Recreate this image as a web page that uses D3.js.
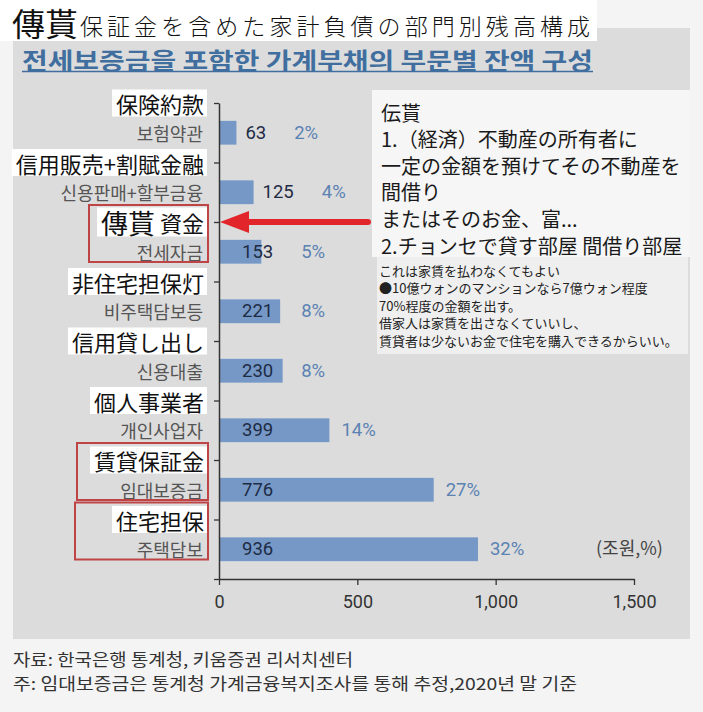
<!DOCTYPE html>
<html>
<head>
<meta charset="utf-8">
<script src="https://cdn.jsdelivr.net/npm/d3@7/dist/d3.min.js"></script>
<style>
  html, body { margin: 0; padding: 0; background: #f4f4f4; }
  svg { display: block; }
</style>
</head>
<body>
<svg id="chart" width="703" height="712"></svg>
<script>
// ---------------- data ----------------
const categories = ['보험약관', '신용판매+할부금융', '전세자금', '비주택담보등', '신용대출', '개인사업자', '임대보증금', '주택담보'];
const jpLabels = ['保険約款', '信用販売+割賦金融', '傳貰 資金', '非住宅担保灯', '信用貸し出し', '個人事業者', '賃貸保証金', '住宅担保'];
const values = [63, 125, 153, 221, 230, 399, 776, 936];
const shares = [2, 4, 5, 8, 8, 14, 27, 32];
const xTicks = [0, 500, 1000, 1500];
const highlighted = ['전세자금', '임대보증금', '주택담보'];
const arrowTarget = '전세자금';

const titleBig = '傳貰';
const titleRest = '保証金を含めた家計負債の部門別残高構成';
const subtitle = '전세보증금을 포함한 가계부채의  부문별 잔액 구성';
const unitLabel = '(조원,%)';
const noteLines = ['伝貰', '1.（経済）不動産の所有者に', '一定の金額を預けてその不動産を', '間借り', 'またはそのお金、富...', '2.チョンセで貸す部屋 間借り部屋'];
const noteSmall = ['これは家賃を払わなくてもよい', '●10億ウォンのマンションなら7億ウォン程度', '70%程度の金額を出す。', '借家人は家賃を出さなくていいし、', '賃貸者は少ないお金で住宅を購入できるからいい。'];
const footer = ['자료: 한국은행 통계청, 키움증권 리서치센터', '주: 임대보증금은 통계청 가계금융복지조사를 통해 추정,2020년 말 기준'];

// ---------------- layout ----------------
const KR = '"Noto Sans CJK KR", "Noto Sans", sans-serif';
const JP = '"Noto Sans CJK JP", "Noto Sans", sans-serif';
const NUM = 'Roboto, "Noto Sans", sans-serif';

const svg = d3.select('#chart');

// background panels
svg.append('rect').attr('x', 0).attr('y', 0).attr('width', 703).attr('height', 712).attr('fill', '#f4f4f4');
svg.append('rect').attr('x', 13).attr('y', 28).attr('width', 677).attr('height', 611).attr('fill', '#dcdcdc');
svg.append('rect').attr('x', 0).attr('y', 0).attr('width', 597).attr('height', 41).attr('fill', '#ffffff');

// title
svg.append('text').attr('x', 12).attr('y', 22).attr('dominant-baseline', 'central')
  .attr('font-family', JP).attr('font-size', 32).attr('fill', '#111')
  .attr('textLength', 66).attr('lengthAdjust', 'spacingAndGlyphs').text(titleBig);
svg.append('text').attr('x', 80).attr('y', 25).attr('dominant-baseline', 'central')
  .attr('font-family', JP).attr('font-size', 23).attr('font-weight', 300).attr('fill', '#111')
  .attr('textLength', 510).attr('lengthAdjust', 'spacing').text(titleRest);

// subtitle
svg.append('text').attr('x', 22).attr('y', 59).attr('dominant-baseline', 'central')
  .attr('font-family', KR).attr('font-size', 22.5).attr('font-weight', 'bold').attr('fill', '#3f6e9f')
  .attr('textLength', 571).attr('lengthAdjust', 'spacingAndGlyphs').text(subtitle);
svg.append('line').attr('x1', 22).attr('x2', 593).attr('y1', 71.5).attr('y2', 71.5)
  .attr('stroke', '#3f6e9f').attr('stroke-width', 1.5);

// scales
const x = d3.scaleLinear().domain([0, 1500]).range([219, 634]);
const y = d3.scaleBand().domain(categories).range([103, 579]).paddingInner(0.6).paddingOuter(0.3);
const yEdge = d3.scaleLinear().domain([0, categories.length]).range([103, 579]);

// bars
const data = categories.map((c, i) => ({ cat: c, jp: jpLabels[i], v: values[i], s: shares[i] }));
svg.append('g').selectAll('rect').data(data).join('rect')
  .attr('x', x(0)).attr('y', d => y(d.cat)).attr('height', y.bandwidth())
  .attr('width', d => x(d.v) - x(0)).attr('fill', '#7598c6');

// y axis (ticks at band edges)
const yAxis = svg.append('g').attr('transform', `translate(${x(0)},0)`)
  .call(d3.axisLeft(yEdge).tickValues(d3.range(categories.length + 1)).tickFormat('').tickSize(5).tickSizeOuter(0));
yAxis.select('.domain').attr('stroke', '#333').attr('stroke-width', 1.5);
yAxis.selectAll('.tick line').attr('stroke', '#333').attr('stroke-width', 1.3);

// x axis
const xAxis = svg.append('g').attr('transform', `translate(0,${yEdge(categories.length)})`)
  .call(d3.axisBottom(x).tickValues(xTicks).tickFormat(d3.format(',')).tickSize(6).tickSizeOuter(0).tickPadding(10));
xAxis.select('.domain').attr('stroke', '#333').attr('stroke-width', 1.5);
xAxis.selectAll('.tick line').attr('stroke', '#333').attr('stroke-width', 1.3);
xAxis.selectAll('.tick text').attr('font-family', NUM).attr('font-size', 18).attr('fill', '#333');

// value + share labels
const labels = svg.append('g');
data.forEach(d => {
  const w = x(d.v) - x(0);
  const cy = y(d.cat) + y.bandwidth() / 2;
  const vx = w > 40 ? x(0) + 23 : x(d.v) + 9;
  const vt = labels.append('text').attr('x', vx).attr('y', cy).attr('dominant-baseline', 'central')
    .attr('font-family', NUM).attr('font-size', 18.5).attr('fill', '#1e2b45').text(d.v);
  const vEnd = vx + vt.node().getComputedTextLength();
  const px = Math.max(x(d.v) + 12, vEnd + 28);
  labels.append('text').attr('x', px).attr('y', cy).attr('dominant-baseline', 'central')
    .attr('font-family', NUM).attr('font-size', 18.5).attr('fill', '#5b82b3').text(d.s + '%');
  // korean category label
  labels.append('text').attr('x', 203).attr('y', cy).attr('dominant-baseline', 'central')
    .attr('text-anchor', 'end').attr('font-family', KR).attr('font-size', 18).attr('fill', '#555').text(d.cat);
});

// japanese labels on white boxes (at band top edges)
const jpG = svg.append('g');
data.forEach((d, i) => {
  const ty = yEdge(i);
  const g = jpG.append('g');
  const box = g.append('rect').attr('fill', '#ffffff');
  const t = g.append('text').attr('x', 204).attr('y', ty).attr('dominant-baseline', 'central')
    .attr('text-anchor', 'end').attr('font-family', JP).attr('fill', '#111');
  const parts = d.jp.split(' ');
  if (parts.length > 1) {
    t.append('tspan').attr('font-size', 27).text(parts[0]);
    t.append('tspan').attr('font-size', 22).text(' ' + parts.slice(1).join(' '));
  } else {
    t.attr('font-size', 22).text(d.jp);
  }
  const len = t.node().getComputedTextLength();
  const h = parts.length > 1 ? 29 : 27;
  box.attr('x', 204 - len - 4).attr('y', ty - h / 2).attr('width', len + 7).attr('height', h);
});

// highlight boxes
const highlightLeft = { '전세자금': 89, '임대보증금': 77, '주택담보': 75 };
highlighted.forEach(c => {
  const i = categories.indexOf(c);
  const top = yEdge(i) - 17;
  svg.append('rect').attr('x', highlightLeft[c]).attr('y', top)
    .attr('width', 208 - highlightLeft[c]).attr('height', 57)
    .attr('fill', 'none').attr('stroke', '#bf4446').attr('stroke-width', 2);
});

// arrow
const ay = yEdge(categories.indexOf(arrowTarget));
const tip = x(0) + 1;
svg.append('line').attr('x1', tip + 26).attr('x2', 368).attr('y1', ay).attr('y2', ay)
  .attr('stroke', '#e2252b').attr('stroke-width', 6).attr('stroke-linecap', 'round');
svg.append('path').attr('d', `M${tip},${ay} L${tip + 29},${ay - 11} L${tip + 29},${ay + 11} Z`).attr('fill', '#e2252b');

// annotation box
svg.append('rect').attr('x', 372).attr('y', 90).attr('width', 318).attr('height', 167).attr('fill', '#f6f6f6');
svg.append('rect').attr('x', 377).attr('y', 257).attr('width', 311).attr('height', 97).attr('fill', '#efefef');
noteLines.forEach((l, i) => {
  svg.append('text').attr('x', 381).attr('y', 112 + i * 26.6).attr('dominant-baseline', 'central')
    .attr('font-family', JP).attr('font-size', 20).attr('fill', '#1a1a1a').text(l);
});
noteSmall.forEach((l, i) => {
  svg.append('text').attr('x', 379).attr('y', 270 + i * 17.5).attr('dominant-baseline', 'central')
    .attr('font-family', JP).attr('font-size', 13).attr('fill', '#222').text(l);
});

// unit label
svg.append('text').attr('x', 596).attr('y', 547).attr('dominant-baseline', 'central')
  .attr('font-family', KR).attr('font-size', 18).attr('fill', '#444').text(unitLabel);

// footer
footer.forEach((l, i) => {
  svg.append('text').attr('x', 13).attr('y', 659 + i * 24).attr('dominant-baseline', 'central')
    .attr('font-family', KR).attr('font-size', 16.5).attr('fill', '#333')
    .attr('textLength', i === 0 ? 340 : 564).attr('lengthAdjust', 'spacingAndGlyphs').text(l);
});
</script>
</body>
</html>
